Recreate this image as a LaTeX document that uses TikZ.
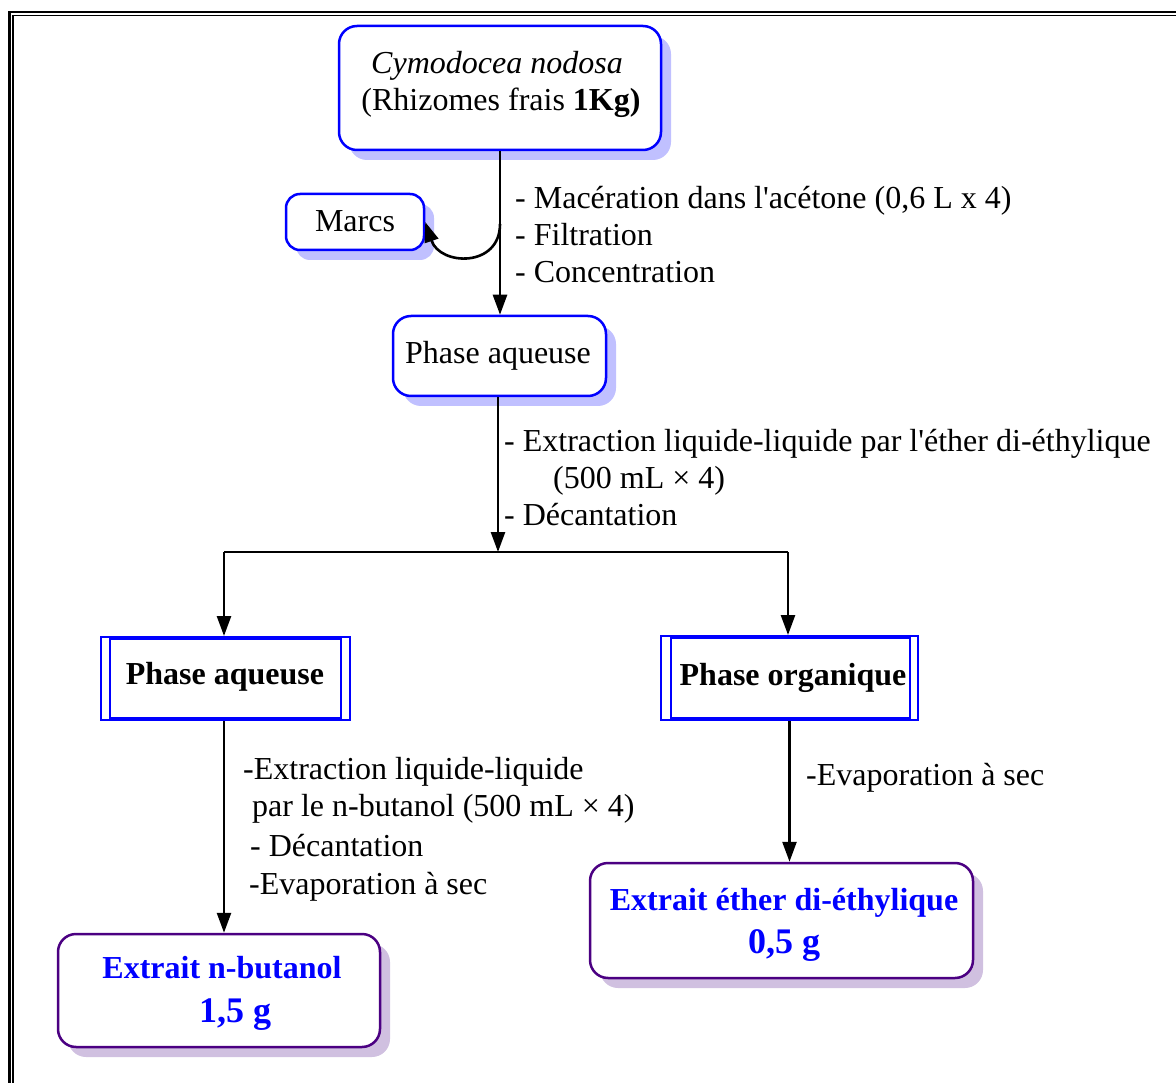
\documentclass[tikz,border=0pt]{standalone}
\usepackage{fontspec}
\setmainfont{Liberation Serif}
\usetikzlibrary{arrows.meta,shadows}
\definecolor{bborder}{RGB}{0,0,255}
\definecolor{bshadow}{RGB}{192,192,255}
\definecolor{pborder}{RGB}{75,0,130}
\definecolor{pshadow}{RGB}{208,192,224}
\definecolor{btext}{RGB}{0,0,255}
\begin{document}
\begin{tikzpicture}[x=1pt,y=-1pt,
  font=\fontsize{32}{38}\selectfont,
  bluebox/.style={draw=bborder, line width=2.5pt, rounded corners=18pt, fill=white, inner sep=0pt,
    drop shadow={shadow xshift=10pt, shadow yshift=-10pt, fill=bshadow, opacity=1}},
  purplebox/.style={draw=pborder, line width=2.5pt, rounded corners=18pt, fill=white, inner sep=0pt,
    drop shadow={shadow xshift=10pt, shadow yshift=-10pt, fill=pshadow, opacity=1}},
  dblbox/.style={draw=bborder, line width=2pt, fill=white, inner sep=0pt},
  conn/.style={draw=black, line width=2.6pt, -{Triangle[length=20pt,width=14pt]}},
  plainline/.style={draw=black, line width=2.6pt},
  lbl/.style={anchor=base west, inner sep=0pt},
  ctxt/.style={anchor=base, inner sep=0pt},
  bigtxt/.style={anchor=base, inner sep=0pt, text=btext, font=\fontsize{32}{38}\selectfont\bfseries},
  hugetxt/.style={anchor=base, inner sep=0pt, text=btext, font=\fontsize{36}{42}\selectfont\bfseries}
]
\useasboundingbox (0,0) rectangle (1176,1083);
\clip (0,0) rectangle (1176,1083);
% outer double frame
\draw[line width=2.8pt] (9.5,12) rectangle (1200,1110);
\draw[line width=1.6pt] (13,15.5) rectangle (1196,1106);

% boxes
\node[bluebox, minimum width=322pt, minimum height=124pt] (top) at (500,88) {};
\node[bluebox, rounded corners=14pt, minimum width=138pt, minimum height=56pt] (marcs) at (355,222) {};
\node[bluebox, minimum width=213pt, minimum height=80pt] (pa1) at (499.5,356) {};
\node[dblbox, minimum width=249pt, minimum height=83pt] (pa2) at (225.5,678.5) {};
\node[dblbox, minimum width=257pt, minimum height=84pt] (po) at (789.5,678) {};
\node[purplebox, minimum width=322pt, minimum height=113pt] (bl) at (219,990.5) {};
\node[purplebox, minimum width=383pt, minimum height=115pt] (br) at (781.5,920.5) {};

% inner lines of double boxes
\draw[draw=bborder, line width=2pt] ([xshift=10pt,yshift=-2.5pt]pa2.north west) rectangle ([xshift=-10pt,yshift=3pt]pa2.south east);
\draw[draw=bborder, line width=2pt] ([xshift=11pt,yshift=-2.5pt]po.north west) rectangle ([xshift=-9pt,yshift=3pt]po.south east);

% box texts
\node[ctxt] (t1) at (497,74) {\textit{Cymodocea nodosa}};
\node[ctxt] (t2) at (501,111) {(Rhizomes frais \textbf{1Kg)}};
\node[ctxt] (t3) at (355,232) {Marcs};
\node[ctxt] (t4) at (498,364) {Phase aqueuse};
\node[ctxt, font=\fontsize{32}{38}\selectfont\bfseries] (t5) at (225,684) {Phase aqueuse};
\node[ctxt, font=\fontsize{32}{38}\selectfont\bfseries] (t6) at (793,685) {Phase organique};
\node[bigtxt] (t7) at (222,978) {Extrait n-butanol};
\node[hugetxt] (t8) at (235,1022) {1,5 g};
\node[bigtxt] (t9) at (784,910) {Extrait éther di-éthylique};
\node[hugetxt] (t10) at (784,953) {0,5 g};

% labels
\node[lbl] (l1) at (515,209) {- Macération dans l\textquotesingle acétone (0,6 L x 4)};
\node[lbl] (l2) at (515,246) {- Filtration};
\node[lbl] (l3) at (515,283) {- Concentration};
\node[lbl] (l4) at (504,451) {- Extraction liquide-liquide par l\textquotesingle éther di-éthylique};
\node[lbl] (l5) at (553,488) {(500 mL × 4)};
\node[lbl] (l6) at (504,525) {- Décantation};
\node[lbl] (l7) at (243,779) {-Extraction liquide-liquide};
\node[lbl] (l8) at (252,816) {par le n-butanol (500 mL × 4)};
\node[lbl] (l9) at (250,856) {- Décantation};
\node[lbl] (l10) at (249,894) {-Evaporation à sec};
\node[lbl] (l11) at (806,785) {-Evaporation à sec};

% connectors
\coordinate (c1) at (500,224);
\coordinate (split) at (498,552);
\coordinate (hl) at (224,552);
\coordinate (hr) at (788,552);
\draw[conn] (top.south) -- (top.south |- pa1.north);
\draw[conn] (c1) .. controls (500,268) and (440,266) .. (marcs.east);
\draw[conn] (pa1.south -| split) -- (split);
\draw[plainline] (hl) -- (hr);
\draw[conn] (hl) -- (hl |- pa2.north);
\draw[conn] (hr) -- (hr |- po.north);
\draw[conn] (hl |- pa2.south) -- (hl |- bl.north);
\draw[conn] (po.south) -- (po.south |- br.north);
\end{tikzpicture}
\end{document}
